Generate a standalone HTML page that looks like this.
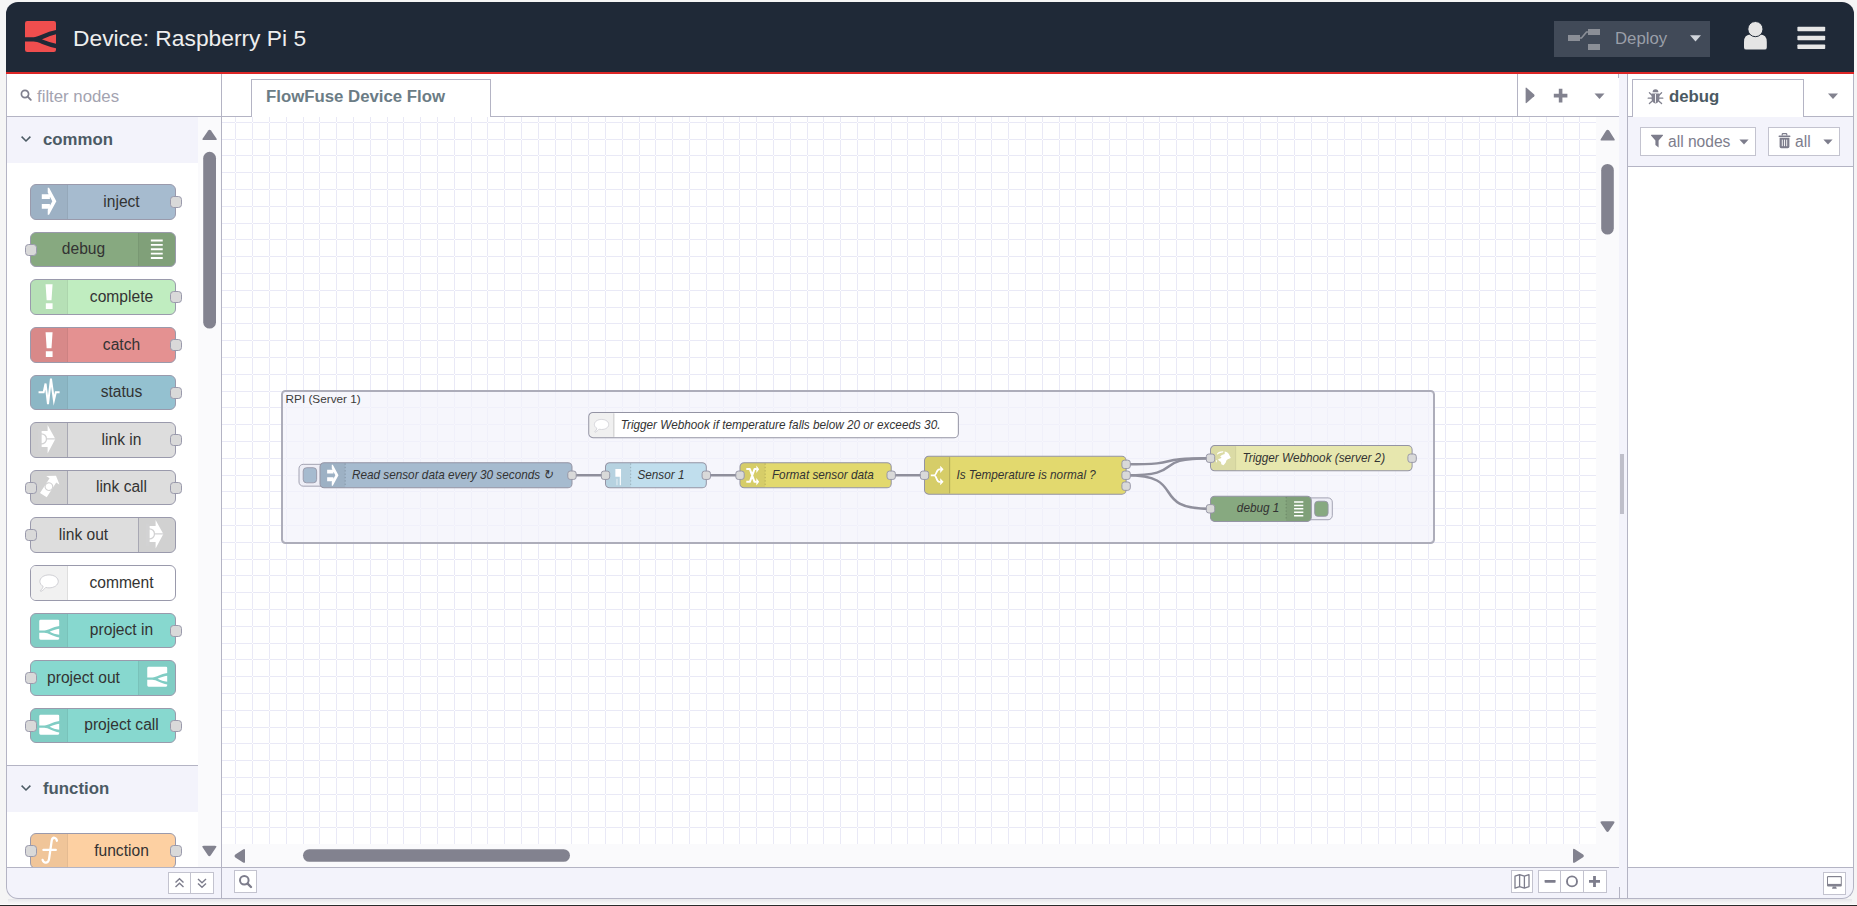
<!DOCTYPE html>
<html>
<head>
<meta charset="utf-8">
<title>FlowFuse Device Editor</title>
<style>
*{box-sizing:border-box;}
html,body{margin:0;padding:0;}
body{width:1857px;height:906px;overflow:hidden;background:#f5f5f5;position:relative;font-family:"Liberation Sans",sans-serif;color:#4b5563;}
.abs{position:absolute;}
#frame{position:absolute;left:6px;top:2px;width:1848px;height:897px;border-radius:12px;overflow:hidden;background:#fff;}
#frameborder{position:absolute;left:6px;top:2px;width:1848px;height:897px;border-radius:12px;border:1px solid #b4b4c4;border-top:none;pointer-events:none;z-index:50;}
#inner{position:absolute;left:-6px;top:-2px;width:1857px;height:906px;}
#bottomline{position:absolute;left:0;top:905px;width:1857px;height:1px;background:#2a2a2a;}
#shadow{position:absolute;left:8px;top:899px;width:1844px;height:4px;background:linear-gradient(#e6e6ea,#f5f5f5);}
/* header */
#header{position:absolute;left:6px;top:2px;width:1848px;height:72px;background:#1f2937;border-bottom:2px solid #dc2626;z-index:60;border-radius:12px 12px 0 0;}
#title{position:absolute;left:67px;top:22px;font-size:22.8px;color:#eeeeee;white-space:nowrap;line-height:28px;}
#deploy{position:absolute;left:1548px;top:19px;width:156px;height:36px;background:#414a58;}
#deploy .lbl{position:absolute;left:61px;top:7px;font-size:16.8px;color:#9a9fa8;line-height:22px;}
.fbtn{background:#fff;border:1px solid #c3c3cf;}

.pcat{position:absolute;left:7px;width:191px;background:#f3f3fb;}
.pcat span{position:absolute;font-size:16.8px;font-weight:bold;line-height:22px;color:#4b5a64;white-space:nowrap;}
.pn{position:absolute;left:30px;width:146px;height:35px;border:1px solid #9a9aac;border-radius:6px;}
.pic{position:absolute;top:0;bottom:0;width:37px;}
.plb{position:absolute;top:0;bottom:1px;display:flex;align-items:center;justify-content:center;text-align:center;font-size:15.6px;color:#333;white-space:nowrap;}
.pp{position:absolute;top:11px;width:12px;height:12px;background:#d9d9d9;border:1px solid #9a9aac;border-radius:3.6px;}

.fl{font-size:14px;font-style:italic;fill:#333;}
.w{fill:none;stroke:#8f8f9c;stroke-width:2.5;}
</style>
</head>
<body>
<div id="frame"><div id="inner">

<!-- ===== palette ===== -->
<div class="abs" style="left:6px;top:74px;width:216px;height:825px;background:#fff;border-right:1px solid #b4b4c4;"></div>
<div class="abs" id="psearch" style="left:7px;top:74px;width:214px;height:43px;background:#fff;border-bottom:1px solid #b4b4c4;">
  <svg class="abs" style="left:13px;top:15px" width="13" height="13" viewBox="0 0 13 13"><circle cx="5" cy="5" r="3.600" fill="none" stroke="#80808e" stroke-width="1.700"/><path d="M7.700 7.700 L10.800 10.800" stroke="#80808e" stroke-width="1.900" stroke-linecap="round"/></svg>
  <div class="abs" style="left:30px;top:12px;font-size:16.8px;line-height:22px;color:#a3a3b0;white-space:nowrap;">filter nodes</div>
</div>
<div class="abs" style="left:198px;top:117px;width:23px;height:750px;background:#fafafc;"></div>

<svg width="0" height="0" style="position:absolute">
<defs>
<symbol id="i-inject" viewBox="0 0 40 60"><path d="M7 17h15v9H7z M7 35h15v9H7z M18 5h2.5L34 30 20.5 55H18v-9l8.5-16L18 14z" fill="#fff"/></symbol>
<symbol id="i-debug" viewBox="0 0 40 60"><path d="M9 12h22v3.6H9z M9 20.2h22v3.6H9z M9 28.2h22v3.6H9z M9 36.4h22v3.6H9z M9 44.5h22v3.6H9z" fill="#fff"/></symbol>
<symbol id="i-alert" viewBox="0 0 40 60"><path d="M14 8H27L25 37.5H16z M14.5 43H27V53.5H14.5z" fill="#fff"/></symbol>
<symbol id="i-status" viewBox="0 0 40 60"><path d="M1 30H10.5L14 14 18.5 52 24 5 29.5 45 33 30H41" fill="none" stroke="#fff" stroke-width="3.700" stroke-linejoin="miter" stroke-miterlimit="6"/></symbol>
<symbol id="i-link" viewBox="0 0 40 60"><path d="M6.300 14.600H17.800V3.600L32.100 29.400 17.800 56.700V44.500H6.300z" fill="#fff"/><circle cx="6.300" cy="29.400" r="9.400" fill="none" stroke="#d2d2d3" stroke-width="2.400"/><path d="M15.500 28.200H33V30.600H15.500z" fill="#d2d2d3"/><path d="M-6 10H6.300V52H-6z" fill="#d2d2d3"/></symbol>
<symbol id="i-linkcall" viewBox="0 0 40 60"><g transform="translate(20.200 28.900) rotate(-57)"><path d="M-18.900 -7.400H13.600V-14.700L24.100 0 13.600 14.700V7.400H-18.900z" fill="#fff"/><circle r="7.150" fill="#fff" stroke="#d2d2d3" stroke-width="2.100"/></g></symbol>
<symbol id="i-comment" viewBox="0 0 40 60"><path d="M20.5 16.500C30 16.500 37.500 21.700 37.500 28.500S30 40.500 20.500 40.500c-2.200 0-4.300-.3-6.200-.8C11.500 42.800 8.500 45.800 5 47c-.9-.4-1-1.200-.4-1.900 2.400-1.900 4.300-4.200 4.900-7.300C5.700 35.600 3.500 32.300 3.500 28.500 3.500 21.700 11 16.500 20.500 16.500z" fill="#fff" stroke="#c6c6cc" stroke-width="1.500"/></symbol>
<symbol id="i-ff" viewBox="0 0 40 60"><path d="M4.800 10.800H37Q39.500 10.800 39.500 13.300V22.400C27 24 19.500 30.400 12 30.400H2.300V13.300Q2.300 10.800 4.800 10.800z M2.300 34.800H11.500C19.500 34.800 27 41.600 39.500 43.400V45Q39.500 47.500 37 47.500H4.800Q2.300 47.500 2.300 45z M39.500 27.500V38.600C32.500 37.300 27 35.400 21.500 32.700 27 30.400 32.500 28.600 39.500 27.500z" fill="#fff"/></symbol>
<symbol id="i-func" viewBox="0 0 40 60"><path d="M35 12.500C34 6 27 4.500 25.400 12L20.500 46C19.500 54 11 55.500 8.500 48 M10 29.500H33" fill="none" stroke="#fff" stroke-width="4.200" stroke-linecap="round"/></symbol>
<symbol id="i-swap" viewBox="0 0 40 60"><path d="M5 15.200H13.500L24.500 45.700H30 M5 45.700H13.500L24.500 15.200H30" fill="none" stroke="#fff" stroke-width="4.800" stroke-linejoin="round"/><path d="M28.900 6.500L35.600 15.500 28.900 24.500z M28.900 36.700L35.600 45.700 28.900 54.700z" fill="#fff"/></symbol>
<symbol id="i-switch" viewBox="0 0 40 60"><path d="M5 30.200H15.700 M28 16H25C18 16 19 30.200 13 30.200 19 30.200 18 45.500 25 45.500H28" fill="none" stroke="#fff" stroke-width="4.200"/><path d="M27.400 7.500L35.400 16 27.400 24.500z M27.400 37L35.400 45.500 27.400 54z" fill="#fff"/></symbol>
<symbol id="i-globe" viewBox="0 0 40 60"><path d="M23.800 14.100C30 15 35 20 35.600 24.400L38.500 29.600 31.200 32.500 28.200 34.700 26 40.600 20.900 46.500 15.700 44.300 15 39.100 9.100 34.700 8.300 31.800 13.500 31 16.400 28.100 12.800 25.900 17.200 22.200 23.800 20z M5.400 19.300C9 15 15 13 20.900 13.700L19.500 16.500C14 17 10 19 6.500 21.500z M2.800 34.700L4.800 34.200 5.600 39 4 40z" fill="#fff"/></symbol>
<symbol id="i-sensor" viewBox="0 0 40 60"><path d="M13.500 15H27V33.500H13.500z M24 33.500H26.600V54H24z" fill="#fff"/><path d="M15 38.500H19.500V54H15z" fill="#fff" fill-opacity="0.35"/></symbol>
</defs>
</svg>
<div class="pcat" style="top:117px;height:46px;"><svg class="abs" style="left:12px;top:16px" width="14" height="12" viewBox="0 0 14 12"><path d="M2.600 3.600L7 8 11.400 3.600" fill="none" stroke="#4b5a64" stroke-width="1.500"/></svg><span style="left:36px;top:12px;">common</span></div>
<div class="pn" style="top:184px;height:36px;background:#a6bbcf;"><div class="pic" style="left:0;border-right:1px solid rgba(0,0,0,0.05);background:rgba(0,0,0,0.05);border-radius:5px 0 0 5px;"><svg width="22" height="33" style="position:absolute;left:7px;top:0"><use href="#i-inject" width="21.6" height="32.4"/></svg></div><div class="plb" style="left:37px;right:0;">inject</div><div class="pp" style="right:-7px;"></div></div>
<div class="pn" style="top:232px;height:35px;background:#87a980;"><div class="pic" style="right:0;border-left:1px solid rgba(0,0,0,0.05);background:rgba(0,0,0,0.05);border-radius:0 5px 5px 0;"><svg width="22" height="33" style="position:absolute;left:7px;top:0"><use href="#i-debug" width="21.6" height="32.4"/></svg></div><div class="plb" style="left:0;right:39px;">debug</div><div class="pp" style="left:-6px;"></div></div>
<div class="pn" style="top:279px;height:36px;background:#c0edc0;"><div class="pic" style="left:0;border-right:1px solid rgba(0,0,0,0.05);background:rgba(0,0,0,0.05);border-radius:5px 0 0 5px;"><svg width="22" height="33" style="position:absolute;left:7px;top:0"><use href="#i-alert" width="21.6" height="32.4"/></svg></div><div class="plb" style="left:37px;right:0;">complete</div><div class="pp" style="right:-7px;"></div></div>
<div class="pn" style="top:327px;height:36px;background:#e49191;"><div class="pic" style="left:0;border-right:1px solid rgba(0,0,0,0.05);background:rgba(0,0,0,0.05);border-radius:5px 0 0 5px;"><svg width="22" height="33" style="position:absolute;left:7px;top:0"><use href="#i-alert" width="21.6" height="32.4"/></svg></div><div class="plb" style="left:37px;right:0;">catch</div><div class="pp" style="right:-7px;"></div></div>
<div class="pn" style="top:375px;height:35px;background:#94c1d0;"><div class="pic" style="left:0;border-right:1px solid rgba(0,0,0,0.05);background:rgba(0,0,0,0.05);border-radius:5px 0 0 5px;"><svg width="22" height="33" style="position:absolute;left:7px;top:0"><use href="#i-status" width="21.6" height="32.4"/></svg></div><div class="plb" style="left:37px;right:0;">status</div><div class="pp" style="right:-7px;"></div></div>
<div class="pn" style="top:422px;height:36px;background:#dddddd;"><div class="pic" style="left:0;border-right:1px solid rgba(90,90,120,0.35);background:rgba(0,0,0,0.05);border-radius:5px 0 0 5px;"><svg width="22" height="33" style="position:absolute;left:7px;top:0"><use href="#i-link" width="21.6" height="32.4"/></svg></div><div class="plb" style="left:37px;right:0;">link in</div><div class="pp" style="right:-7px;"></div></div>
<div class="pn" style="top:470px;height:35px;background:#dddddd;"><div class="pic" style="left:0;border-right:1px solid rgba(90,90,120,0.35);background:rgba(0,0,0,0.05);border-radius:5px 0 0 5px;"><svg width="22" height="33" style="position:absolute;left:7px;top:0"><use href="#i-linkcall" width="21.6" height="32.4"/></svg></div><div class="plb" style="left:37px;right:0;">link call</div><div class="pp" style="left:-6px;"></div><div class="pp" style="right:-7px;"></div></div>
<div class="pn" style="top:517px;height:36px;background:#dddddd;"><div class="pic" style="right:0;border-left:1px solid rgba(90,90,120,0.35);background:rgba(0,0,0,0.05);border-radius:0 5px 5px 0;"><svg width="22" height="33" style="position:absolute;left:7px;top:0"><use href="#i-link" width="21.6" height="32.4"/></svg></div><div class="plb" style="left:0;right:39px;">link out</div><div class="pp" style="left:-6px;"></div></div>
<div class="pn" style="top:565px;height:36px;background:#ffffff;"><div class="pic" style="left:0;border-right:1px solid rgba(0,0,0,0.08);background:#f1f1f1;border-radius:5px 0 0 5px;"><svg width="22" height="33" style="position:absolute;left:7px;top:0"><use href="#i-comment" width="21.6" height="32.4"/></svg></div><div class="plb" style="left:37px;right:0;">comment</div></div>
<div class="pn" style="top:613px;height:35px;background:#87d8cf;"><div class="pic" style="left:0;border-right:1px solid rgba(0,0,0,0.05);background:rgba(0,0,0,0.05);border-radius:5px 0 0 5px;"><svg width="22" height="33" style="position:absolute;left:7px;top:0"><use href="#i-ff" width="21.6" height="32.4"/></svg></div><div class="plb" style="left:37px;right:0;">project in</div><div class="pp" style="right:-7px;"></div></div>
<div class="pn" style="top:660px;height:36px;background:#87d8cf;"><div class="pic" style="right:0;border-left:1px solid rgba(0,0,0,0.05);background:rgba(0,0,0,0.05);border-radius:0 5px 5px 0;"><svg width="22" height="33" style="position:absolute;left:7px;top:0"><use href="#i-ff" width="21.6" height="32.4"/></svg></div><div class="plb" style="left:0;right:39px;">project out</div><div class="pp" style="left:-6px;"></div></div>
<div class="pn" style="top:708px;height:35px;background:#87d8cf;"><div class="pic" style="left:0;border-right:1px solid rgba(0,0,0,0.05);background:rgba(0,0,0,0.05);border-radius:5px 0 0 5px;"><svg width="22" height="33" style="position:absolute;left:7px;top:0"><use href="#i-ff" width="21.6" height="32.4"/></svg></div><div class="plb" style="left:37px;right:0;">project call</div><div class="pp" style="left:-6px;"></div><div class="pp" style="right:-7px;"></div></div>
<div class="pcat" style="top:765px;height:47px;border-top:1px solid #b4b4c4;"><svg class="abs" style="left:12px;top:16px" width="14" height="12" viewBox="0 0 14 12"><path d="M2.600 3.600L7 8 11.400 3.600" fill="none" stroke="#4b5a64" stroke-width="1.500"/></svg><span style="left:36px;top:12px;">function</span></div>
<div class="pn" style="top:833px;height:36px;background:#fdd0a2;"><div class="pic" style="left:0;border-right:1px solid rgba(0,0,0,0.05);background:rgba(0,0,0,0.05);border-radius:5px 0 0 5px;"><svg width="22" height="33" style="position:absolute;left:7px;top:0"><use href="#i-func" width="21.6" height="32.4"/></svg></div><div class="plb" style="left:37px;right:0;">function</div><div class="pp" style="left:-6px;"></div><div class="pp" style="right:-7px;"></div></div>
<!-- palette scrollbar -->
<svg class="abs" style="left:198px;top:117px" width="23" height="750" viewBox="0 0 23 750">
  <path d="M5.9 23.1H17.3Q19.6 23.1 18.3 21.2L13.0 13.6Q11.6 11.8 10.2 13.6L4.9 21.2Q3.6 23.1 5.9 23.1z" fill="#82828f"/>
  <rect x="5.2" y="34.8" width="12.8" height="176.8" rx="6.4" fill="#82828f"/>
  <path d="M5.7 728.7H17.0Q19.3 728.7 18.0 730.6L12.8 738.3Q11.3 740.1 9.9 738.3L4.7 730.6Q3.4 728.7 5.7 728.7z" fill="#82828f"/>
</svg>
<!-- palette footer -->
<div class="abs" style="left:7px;top:867px;width:214px;height:32px;background:#f3f3fb;border-top:1px solid #b4b4c4;"></div>
<div class="abs fbtn" style="left:168px;top:872px;width:23px;height:22px;"><svg width="21" height="20" viewBox="0 0 21 20"><path d="M6.5 9.6 L10.5 5.8 L14.5 9.6 M6.5 14 L10.5 10.2 L14.5 14" fill="none" stroke="#7d7d8c" stroke-width="1.4"/></svg></div>
<div class="abs fbtn" style="left:190px;top:872px;width:24px;height:22px;"><svg width="22" height="20" viewBox="0 0 22 20"><path d="M7 6 L11 9.8 L15 6 M7 10.4 L11 14.2 L15 10.4" fill="none" stroke="#7d7d8c" stroke-width="1.4"/></svg></div>

<!-- ===== workspace ===== -->
<div class="abs" id="tabbar" style="left:222px;top:74px;width:1397px;height:43px;background:#fff;border-bottom:1px solid #b4b4c4;"></div>
<div class="abs" id="wtab" style="left:251px;top:79px;width:240px;height:38px;background:#fff;border:1px solid #b4b4c4;border-bottom:none;">
  <div class="abs" style="left:14px;top:6px;font-size:16.8px;font-weight:bold;line-height:22px;color:#6b7c85;white-space:nowrap;">FlowFuse Device Flow</div>
</div>
<div class="abs" style="left:1517px;top:74px;width:1px;height:42px;background:#b4b4c4;"></div>
<svg class="abs" style="left:1518px;top:74px" width="100" height="42" viewBox="0 0 100 42">
  <path d="M7.6 14.5 Q7.6 13 8.8 14 L16.2 20.6 Q17 21.4 16.2 22.2 L8.8 28.8 Q7.6 29.8 7.6 28.3z" fill="#82828f"/>
  <path d="M35.800 19.800 h5 v-5 h3.600 v5 h5 v3.600 h-5 v5 h-3.600 v-5 h-5z" fill="#82828f"/>
  <path d="M76.5 19.5 h10 l-5 5.6z" fill="#82828f"/>
</svg>
<!-- chart -->
<div class="abs" id="chart" style="left:222px;top:117px;width:1374px;height:727px;background:#fff;overflow:hidden;">
<svg width="1374" height="727" style="position:absolute;left:0;top:0" font-family="Liberation Sans, sans-serif">
<path d="M13 0v727h1v-727zM30 0v727h1v-727zM47 0v727h1v-727zM64 0v727h1v-727zM81 0v727h1v-727zM97 0v727h1v-727zM114 0v727h1v-727zM131 0v727h1v-727zM148 0v727h1v-727zM165 0v727h1v-727zM181 0v727h1v-727zM198 0v727h1v-727zM215 0v727h1v-727zM232 0v727h1v-727zM249 0v727h1v-727zM265 0v727h1v-727zM282 0v727h1v-727zM299 0v727h1v-727zM316 0v727h1v-727zM333 0v727h1v-727zM349 0v727h1v-727zM366 0v727h1v-727zM383 0v727h1v-727zM400 0v727h1v-727zM417 0v727h1v-727zM433 0v727h1v-727zM450 0v727h1v-727zM467 0v727h1v-727zM484 0v727h1v-727zM501 0v727h1v-727zM517 0v727h1v-727zM534 0v727h1v-727zM551 0v727h1v-727zM568 0v727h1v-727zM585 0v727h1v-727zM601 0v727h1v-727zM618 0v727h1v-727zM635 0v727h1v-727zM652 0v727h1v-727zM669 0v727h1v-727zM685 0v727h1v-727zM702 0v727h1v-727zM719 0v727h1v-727zM736 0v727h1v-727zM753 0v727h1v-727zM769 0v727h1v-727zM786 0v727h1v-727zM803 0v727h1v-727zM820 0v727h1v-727zM837 0v727h1v-727zM853 0v727h1v-727zM870 0v727h1v-727zM887 0v727h1v-727zM904 0v727h1v-727zM921 0v727h1v-727zM937 0v727h1v-727zM954 0v727h1v-727zM971 0v727h1v-727zM988 0v727h1v-727zM1005 0v727h1v-727zM1021 0v727h1v-727zM1038 0v727h1v-727zM1055 0v727h1v-727zM1072 0v727h1v-727zM1089 0v727h1v-727zM1105 0v727h1v-727zM1122 0v727h1v-727zM1139 0v727h1v-727zM1156 0v727h1v-727zM1173 0v727h1v-727zM1189 0v727h1v-727zM1206 0v727h1v-727zM1223 0v727h1v-727zM1240 0v727h1v-727zM1257 0v727h1v-727zM1273 0v727h1v-727zM1290 0v727h1v-727zM1307 0v727h1v-727zM1324 0v727h1v-727zM1341 0v727h1v-727zM1357 0v727h1v-727zM0 5h1374v1h-1374zM0 22h1374v1h-1374zM0 38h1374v1h-1374zM0 55h1374v1h-1374zM0 72h1374v1h-1374zM0 89h1374v1h-1374zM0 106h1374v1h-1374zM0 122h1374v1h-1374zM0 139h1374v1h-1374zM0 156h1374v1h-1374zM0 173h1374v1h-1374zM0 190h1374v1h-1374zM0 206h1374v1h-1374zM0 223h1374v1h-1374zM0 240h1374v1h-1374zM0 257h1374v1h-1374zM0 274h1374v1h-1374zM0 290h1374v1h-1374zM0 307h1374v1h-1374zM0 324h1374v1h-1374zM0 341h1374v1h-1374zM0 358h1374v1h-1374zM0 374h1374v1h-1374zM0 391h1374v1h-1374zM0 408h1374v1h-1374zM0 425h1374v1h-1374zM0 442h1374v1h-1374zM0 458h1374v1h-1374zM0 475h1374v1h-1374zM0 492h1374v1h-1374zM0 509h1374v1h-1374zM0 526h1374v1h-1374zM0 542h1374v1h-1374zM0 559h1374v1h-1374zM0 576h1374v1h-1374zM0 593h1374v1h-1374zM0 610h1374v1h-1374zM0 626h1374v1h-1374zM0 643h1374v1h-1374zM0 660h1374v1h-1374zM0 677h1374v1h-1374zM0 694h1374v1h-1374zM0 710h1374v1h-1374z" fill="#e9e9f6" shape-rendering="crispEdges"/>
<rect x="60" y="274" width="1152" height="152" rx="3.4" fill="#f2f2fb" fill-opacity="0.72" stroke="#adadba" stroke-width="2"/>
<text x="63.60000000000002" y="285.6" font-size="11.76" fill="#3b3b3b">RPI (Server 1)</text>
<path d="M350.50 358.25L383.50 358.25" class="w"/>
<path d="M485.00 358.25L518.00 358.25" class="w"/>
<path d="M669.00 358.25L702.50 358.25" class="w"/>
<path d="M904.10 347.33C967.10 347.33 925.50 341.20 988.50 341.20" class="w"/>
<path d="M904.10 358.25C967.10 358.25 925.50 341.20 988.50 341.20" class="w"/>
<path d="M904.10 358.25C967.10 358.25 925.50 391.80 988.50 391.80" class="w"/>
<g transform="translate(366.75 295.50) scale(0.84)"><rect x="0" y="0" width="440" height="30" rx="5" fill="#ffffff" stroke="#9494a4" stroke-width="1.2"/><path d="M5.600 0.600H30V29.4H5.600A5 5 0 0 1 0.600 24.4V5.600A5 5 0 0 1 5.600 0.600z" fill="rgba(0,0,0,0.06)"/><path d="M30 1V29" stroke="rgba(0,0,0,0.22)" stroke-width="1"/><use href="#i-comment" x="5" y="0.0" width="20" height="30"/><text x="38" y="0" class="fl" transform="translate(0 19.1) scale(1 1.1)">Trigger Webhook if temperature falls below 20 or exceeds 30.</text></g>
<g transform="translate(98.00 345.65) scale(0.84)"><rect x="-25" y="2" width="32" height="26" rx="5" fill="#eeeef6" stroke="#9494a4" stroke-width="1"/><rect x="-20" y="6" width="16" height="18" rx="4" fill="#a6bbcf" stroke="#9494a4" stroke-width="1"/><rect x="0" y="0" width="300" height="30" rx="5" fill="#a6bbcf" stroke="#9494a4" stroke-width="1.2"/><path d="M5.600 0.600H30V29.4H5.600A5 5 0 0 1 0.600 24.4V5.600A5 5 0 0 1 5.600 0.600z" fill="rgba(0,0,0,0.05)"/><path d="M30 1V29" stroke="rgba(0,0,0,0.22)" stroke-width="1" stroke-dasharray="1.5 2.5"/><use href="#i-inject" x="5" y="0.0" width="20" height="30"/><text x="38" y="0" class="fl" transform="translate(0 19.1) scale(1 1.1)">Read sensor data every 30 seconds &#8635;</text><rect x="295" y="10.0" width="10" height="10" rx="3" fill="#d9d9d9" stroke="#9494a4" stroke-width="1.1"/></g>
<g transform="translate(383.50 345.65) scale(0.84)"><rect x="0" y="0" width="120" height="30" rx="5" fill="#c0deed" stroke="#9494a4" stroke-width="1.2"/><path d="M5.600 0.600H30V29.4H5.600A5 5 0 0 1 0.600 24.4V5.600A5 5 0 0 1 5.600 0.600z" fill="rgba(0,0,0,0.05)"/><path d="M30 1V29" stroke="rgba(0,0,0,0.22)" stroke-width="1" stroke-dasharray="1.5 2.5"/><use href="#i-sensor" x="5" y="0.0" width="20" height="30"/><text x="38" y="0" class="fl" transform="translate(0 19.1) scale(1 1.1)">Sensor 1</text><rect x="-5" y="10.0" width="10" height="10" rx="3" fill="#d9d9d9" stroke="#9494a4" stroke-width="1.1"/><rect x="115" y="10.0" width="10" height="10" rx="3" fill="#d9d9d9" stroke="#9494a4" stroke-width="1.1"/></g>
<g transform="translate(518.00 345.65) scale(0.84)"><rect x="0" y="0" width="180" height="30" rx="5" fill="#e2d96e" stroke="#9494a4" stroke-width="1.2"/><path d="M5.600 0.600H30V29.4H5.600A5 5 0 0 1 0.600 24.4V5.600A5 5 0 0 1 5.600 0.600z" fill="rgba(0,0,0,0.05)"/><path d="M30 1V29" stroke="rgba(0,0,0,0.22)" stroke-width="1" stroke-dasharray="1.5 2.5"/><use href="#i-swap" x="5" y="0.0" width="20" height="30"/><text x="38" y="0" class="fl" transform="translate(0 19.1) scale(1 1.1)">Format sensor data</text><rect x="-5" y="10.0" width="10" height="10" rx="3" fill="#d9d9d9" stroke="#9494a4" stroke-width="1.1"/><rect x="175" y="10.0" width="10" height="10" rx="3" fill="#d9d9d9" stroke="#9494a4" stroke-width="1.1"/></g>
<g transform="translate(702.50 339.35) scale(0.84)"><rect x="0" y="0" width="240" height="45" rx="5" fill="#e2d96e" stroke="#9494a4" stroke-width="1.2"/><path d="M5.600 0.600H30V44.4H5.600A5 5 0 0 1 0.600 39.4V5.600A5 5 0 0 1 5.600 0.600z" fill="rgba(0,0,0,0.05)"/><path d="M30 1V44" stroke="rgba(0,0,0,0.22)" stroke-width="1"/><use href="#i-switch" x="5" y="7.5" width="20" height="30"/><text x="38" y="0" class="fl" transform="translate(0 26.6) scale(1 1.1)">Is Temperature is normal ?</text><rect x="-5" y="17.5" width="10" height="10" rx="3" fill="#d9d9d9" stroke="#9494a4" stroke-width="1.1"/><rect x="235" y="4.5" width="10" height="10" rx="3" fill="#d9d9d9" stroke="#9494a4" stroke-width="1.1"/><rect x="235" y="17.5" width="10" height="10" rx="3" fill="#d9d9d9" stroke="#9494a4" stroke-width="1.1"/><rect x="235" y="30.5" width="10" height="10" rx="3" fill="#d9d9d9" stroke="#9494a4" stroke-width="1.1"/></g>
<g transform="translate(988.50 328.60) scale(0.84)"><rect x="0" y="0" width="240" height="30" rx="5" fill="#e7e7ae" stroke="#9494a4" stroke-width="1.2"/><path d="M5.600 0.600H30V29.4H5.600A5 5 0 0 1 0.600 24.4V5.600A5 5 0 0 1 5.600 0.600z" fill="rgba(0,0,0,0.05)"/><path d="M30 1V29" stroke="rgba(0,0,0,0.08)" stroke-width="1"/><use href="#i-globe" x="5" y="0.0" width="20" height="30"/><text x="38" y="0" class="fl" transform="translate(0 19.1) scale(1 1.1)">Trigger Webhook (server 2)</text><rect x="-5" y="10.0" width="10" height="10" rx="3" fill="#d9d9d9" stroke="#9494a4" stroke-width="1.1"/><rect x="235" y="10.0" width="10" height="10" rx="3" fill="#d9d9d9" stroke="#9494a4" stroke-width="1.1"/></g>
<g transform="translate(988.50 379.20) scale(0.84)"><rect x="113" y="2" width="32" height="26" rx="5" fill="#eeeef6" stroke="#9494a4" stroke-width="1"/><rect x="124" y="6" width="16" height="18" rx="4" fill="#87a980" stroke="#9494a4" stroke-width="1"/><rect x="0" y="0" width="120" height="30" rx="5" fill="#87a980" stroke="#9494a4" stroke-width="1.2"/><path d="M90 0.600H114.4A5 5 0 0 1 119.4 5.600V24.4A5 5 0 0 1 114.4 29.4H90z" fill="rgba(0,0,0,0.05)"/><path d="M90 1V29" stroke="rgba(0,0,0,0.22)" stroke-width="1" stroke-dasharray="1.5 2.5"/><use href="#i-debug" x="95" y="0.0" width="20" height="30"/><text x="82" y="0" class="fl" text-anchor="end" transform="translate(0 19.1) scale(1 1.1)">debug 1</text><rect x="-5" y="10.0" width="10" height="10" rx="3" fill="#d9d9d9" stroke="#9494a4" stroke-width="1.1"/></g>
</svg>
</div>
<!-- chart scrollbars -->
<div class="abs" style="left:1596px;top:117px;width:23px;height:750px;background:#fafafc;"></div>
<div class="abs" style="left:222px;top:844px;width:1397px;height:23px;background:#fafafc;"></div>
<svg class="abs" style="left:1596px;top:117px" width="23" height="750" viewBox="0 0 23 750">
  <path d="M6.0 23.6H17.3Q19.6 23.6 18.3 21.7L13.1 13.6Q11.7 11.8 10.2 13.6L5.0 21.7Q3.7 23.6 6.0 23.6z" fill="#82828f"/>
  <rect x="5.2" y="46.900" width="12.6" height="70.700" rx="6.3" fill="#82828f"/>
  <path d="M5.9 704.3H17.1Q19.4 704.3 18.1 706.2L12.9 714.1Q11.5 715.9 10.1 714.1L4.9 706.2Q3.6 704.3 5.9 704.3z" fill="#82828f"/>
</svg>
<svg class="abs" style="left:222px;top:844px" width="1397" height="23" viewBox="0 0 1397 23">
  <path d="M23.0 6.5V17.5Q23.0 19.8 21.1 18.5L13.3 13.4Q11.5 12.0 13.3 10.6L21.1 5.5Q23.0 4.2 23.0 6.5z" fill="#82828f"/>
  <rect x="81" y="5.2" width="267" height="12.6" rx="6.3" fill="#82828f"/>
  <path d="M1351.0 6.2V17.5Q1351.0 19.8 1352.9 18.5L1361.1 13.2Q1362.9 11.8 1361.1 10.4L1352.9 5.2Q1351.0 3.9 1351.0 6.2z" fill="#82828f"/>
</svg>
<!-- workspace footer -->
<div class="abs" style="left:222px;top:867px;width:1397px;height:32px;background:#f3f3fb;border-top:1px solid #b4b4c4;"></div>
<div class="abs fbtn" style="left:234px;top:870px;width:23px;height:23px;"><svg width="21" height="21" viewBox="0 0 21 21"><circle cx="9.3" cy="9.3" r="4.3" fill="none" stroke="#7d7d8c" stroke-width="2"/><path d="M12.6 12.6 L16 16" stroke="#7d7d8c" stroke-width="2.4" stroke-linecap="round"/></svg></div>
<div class="abs fbtn" style="left:1511px;top:870px;width:22px;height:23px;"><svg width="20" height="21" viewBox="0 0 20 21"><path d="M3 5.2 L7.6 3.6 L12.4 5.2 L17 3.6 V15.6 L12.4 17.2 L7.6 15.6 L3 17.2z M7.6 3.6 V15.6 M12.4 5.2 V17.2" fill="none" stroke="#7d7d8c" stroke-width="1.3" stroke-linejoin="round"/></svg></div>
<div class="abs fbtn" style="left:1538px;top:870px;width:23px;height:23px;"><svg width="22" height="21" viewBox="0 0 22 21"><rect x="5.6" y="8.9" width="11" height="2.8" rx="0.6" fill="#7d7d8c"/></svg></div>
<div class="abs fbtn" style="left:1560px;top:870px;width:24px;height:23px;"><svg width="22" height="21" viewBox="0 0 22 21"><circle cx="11" cy="10.4" r="5" fill="none" stroke="#7d7d8c" stroke-width="1.9"/></svg></div>
<div class="abs fbtn" style="left:1583px;top:870px;width:24px;height:23px;"><svg width="21" height="21" viewBox="0 0 21 21"><path d="M5 9 h4.1 v-4.1 h2.8 v4.1 h4.1 v2.8 h-4.1 v4.1 h-2.8 v-4.1 h-4.1z" fill="#7d7d8c"/></svg></div>

<!-- ===== separator ===== -->
<div class="abs" style="left:1619px;top:74px;width:9px;height:825px;background:#f3f3fb;"></div>
<div class="abs" style="left:1620px;top:454px;width:4px;height:60px;background:#bfbfca;"></div>
<div class="abs" style="left:1619px;top:887px;width:1px;height:12px;background:#b4b4c4;"></div>
<div class="abs" style="left:1618px;top:74px;width:1px;height:4px;background:#b4b4c4;"></div>

<!-- ===== sidebar ===== -->
<div class="abs" style="left:1627px;top:74px;width:227px;height:825px;background:#fff;border-left:1px solid #b4b4c4;"></div>
<div class="abs" style="left:1628px;top:74px;width:226px;height:43px;background:#fff;border-bottom:1px solid #b4b4c4;"></div>
<div class="abs" style="left:1632px;top:79px;width:172px;height:38px;background:#fff;border:1px solid #b4b4c4;border-bottom:none;">
  <svg class="abs" style="left:14px;top:8px" width="17" height="18" viewBox="0 0 17 18"><g fill="none" stroke="#82828f" stroke-width="1.3" stroke-linecap="round"><path d="M1.2 10.2H4.5M12.5 10.2H15.8M2.4 4.8L5 7.2M14.6 4.8L12 7.2M2.4 15.6L5 13.2M14.6 15.6L12 13.2"/></g><path d="M5.6 4.2 a2.9 2.9 0 0 1 5.8 0z" fill="#82828f"/><path d="M4.6 5.6 h7.8 v5.4 a3.9 4.4 0 0 1 -7.8 0z" fill="#82828f"/><path d="M8.5 6 V14.6" stroke="#fff" stroke-width="0.9"/></svg>
  <div class="abs" style="left:36px;top:6px;font-size:16.8px;font-weight:bold;line-height:22px;color:#4b5a64;white-space:nowrap;">debug</div>
</div>
<svg class="abs" style="left:1826px;top:91px" width="14" height="10" viewBox="0 0 14 10"><path d="M2 2.5 h10 l-5 5.6z" fill="#82828f"/></svg>
<div class="abs" style="left:1628px;top:117px;width:226px;height:50px;background:#f3f3fb;border-bottom:1px solid #b4b4c4;"></div>
<div class="abs fbtn" style="left:1640px;top:127px;width:116px;height:29px;">
  <svg class="abs" style="left:9px;top:6px" width="14" height="15" viewBox="0 0 14 15"><path d="M1 1.6 Q0.6 0.8 1.6 0.8 H12.4 Q13.4 0.8 13 1.6 L8.6 6.6 V13.6 L5.4 11 V6.6z" fill="#7d7d8c"/></svg>
  <div class="abs" style="left:27px;top:3px;font-size:15.6px;line-height:22px;color:#7d7d8c;white-space:nowrap;">all nodes</div>
  <svg class="abs" style="left:97px;top:10px" width="12" height="8" viewBox="0 0 12 8"><path d="M1.4 1.4 h9.2 l-4.6 5z" fill="#7d7d8c"/></svg>
</div>
<div class="abs fbtn" style="left:1768px;top:127px;width:72px;height:29px;">
  <svg class="abs" style="left:9px;top:5px" width="13" height="16" viewBox="0 0 13 16"><path d="M4.2 2.4 V1.4 Q4.2 0.6 5 0.6 H8 Q8.8 0.6 8.8 1.4 V2.4" fill="none" stroke="#7d7d8c" stroke-width="1.2"/><rect x="0.6" y="2.4" width="11.8" height="1.7" rx="0.5" fill="#7d7d8c"/><path d="M1.6 4.8 H11.4 V13.6 Q11.4 15.2 9.8 15.2 H3.2 Q1.6 15.2 1.6 13.6z" fill="#7d7d8c"/><path d="M4.3 6.6 V13.2 M6.5 6.6 V13.2 M8.7 6.6 V13.2" stroke="#fff" stroke-width="0.9"/></svg>
  <div class="abs" style="left:26px;top:3px;font-size:15.6px;line-height:22px;color:#7d7d8c;white-space:nowrap;">all</div>
  <svg class="abs" style="left:53px;top:10px" width="12" height="8" viewBox="0 0 12 8"><path d="M1.4 1.4 h9.2 l-4.6 5z" fill="#7d7d8c"/></svg>
</div>
<div class="abs" style="left:1628px;top:867px;width:226px;height:32px;background:#f3f3fb;border-top:1px solid #b4b4c4;"></div>
<div class="abs fbtn" style="left:1823px;top:872px;width:23px;height:23px;"><svg width="21" height="21" viewBox="0 0 21 21"><rect x="3" y="3.100" width="14.800" height="10.500" rx="1.100" fill="#82828f"/><rect x="4" y="4.200" width="12.800" height="6.700" fill="#fff"/><path d="M8.800 13.600h3.200l0.800 2.100h-4.800z" fill="#82828f"/></svg></div>

</div></div>
<div id="frameborder"></div>
<div id="header">
  <svg class="abs" style="left:19px;top:19px" width="31" height="31" viewBox="0 0 1 1"><defs><clipPath id="lg"><rect width="1" height="1" rx="0.07"/></clipPath></defs><g clip-path="url(#lg)"><rect width="1" height="1" fill="#ef4e4e"/><path d="M-0.050 0.595L0.280 0.595C0.480 0.595 0.640 0.420 1.050 0.350M-0.050 0.595L0.280 0.595C0.480 0.595 0.640 0.740 1.050 0.815" fill="none" stroke="#1f2937" stroke-width="0.138"/></g></svg>
  <div id="title">Device: Raspberry Pi 5</div>
  <div id="deploy"><svg class="abs" style="left:12px;top:7px" width="36" height="24" viewBox="0 0 36 24"><rect x="2" y="7" width="12" height="6" fill="#8b8f97"/><rect x="22" y="1" width="12" height="6" fill="#8b8f97"/><rect x="22" y="16" width="12" height="6" fill="#8b8f97"/><path d="M14 10 L15.500 10 L20.500 4 L22 4" fill="none" stroke="#8b8f97" stroke-width="1.700"/></svg><div class="lbl">Deploy</div><svg class="abs" style="left:135px;top:13px" width="13" height="9" viewBox="0 0 13 9"><path d="M1 1.2 h11 l-5.5 6.2z" fill="#d1d5db"/></svg></div>
  <svg class="abs" style="left:1736px;top:17px" width="28" height="32" viewBox="0 0 28 32"><path d="M2 28.400 V23 Q2 15.6 9 15.6 Q13.4 19.4 17.8 15.6 Q24.8 15.6 24.8 23 V28.4 Q24.8 30.6 22.6 30.6 H4.2 Q2 30.600 2 28.400z" fill="#e5e5e5"/><circle cx="13.400" cy="10.100" r="7.600" fill="#e5e5e5" stroke="#1f2937" stroke-width="1"/></svg>
  <svg class="abs" style="left:1791px;top:24px" width="29" height="25" viewBox="0 0 29 25"><rect x="0.4" y="0.7" width="27.8" height="4.5" rx="0.8" fill="#e6e6e6"/><rect x="0.4" y="9.7" width="27.8" height="4.5" rx="0.8" fill="#e6e6e6"/><rect x="0.4" y="18.5" width="27.8" height="4.5" rx="0.8" fill="#e6e6e6"/></svg>
</div>
<div id="shadow"></div>
<div style="position:absolute;left:0;top:904px;width:1857px;height:1px;background:#fdfdfd;"></div>
<div id="bottomline"></div>
</body>
</html>
